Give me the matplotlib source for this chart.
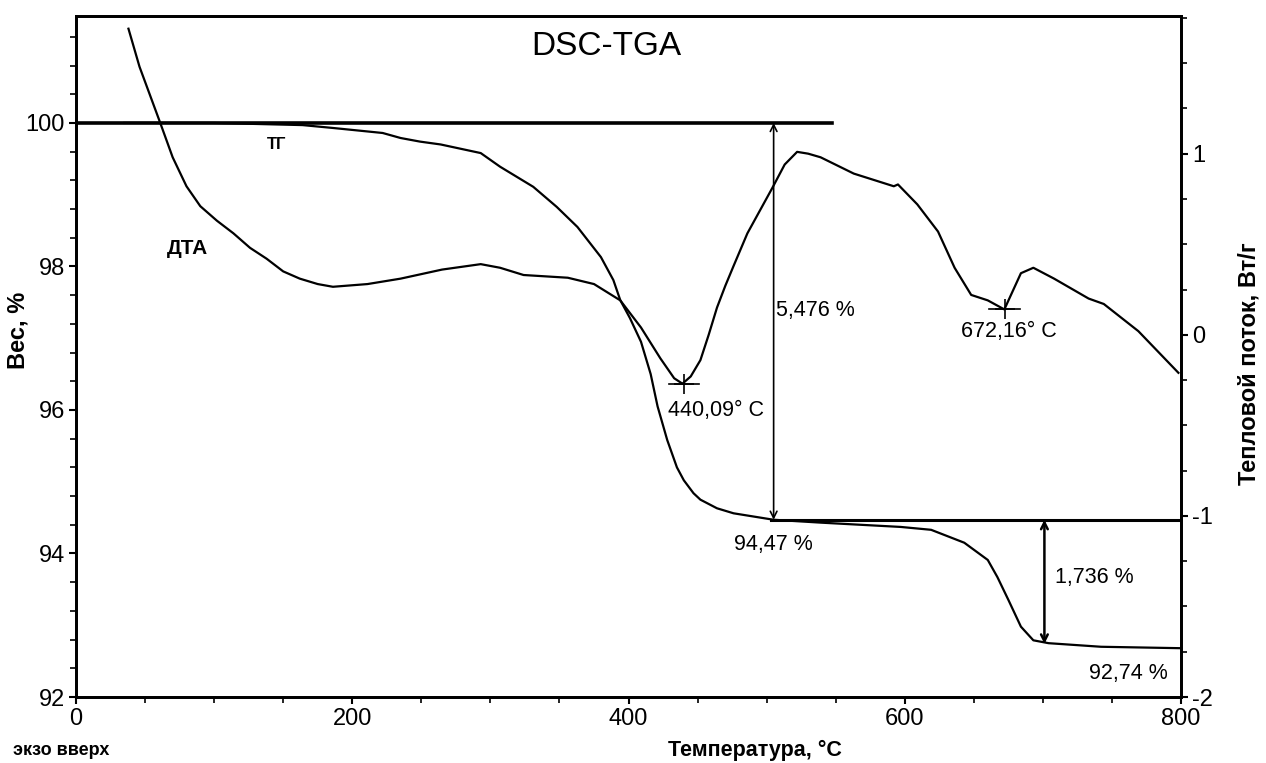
import matplotlib
matplotlib.use("Agg")
import matplotlib.pyplot as plt
from matplotlib.ticker import MultipleLocator

plt.rcParams['font.family'] = ['Liberation Sans', 'DejaVu Sans']

# ---- data ----
tg_temp = [35, 100, 164, 186, 222, 235, 249, 264, 293, 307, 331, 348, 363, 380, 389,
           394, 401, 409, 416, 421, 428, 435, 440, 447, 452, 464, 476, 505, 539, 597,
           619, 643, 660, 667, 675, 684, 693, 704, 742, 800]
tg_weight = [100.0, 100.0, 99.97, 99.93, 99.86, 99.79, 99.74, 99.70, 99.58, 99.39,
             99.11, 98.83, 98.55, 98.13, 97.81, 97.53, 97.28, 96.95, 96.50, 96.05,
             95.58, 95.20, 95.02, 94.84, 94.75, 94.63, 94.56, 94.47, 94.43, 94.37,
             94.33, 94.15, 93.91, 93.67, 93.35, 92.98, 92.79, 92.75, 92.70, 92.68]

dta_temp = [38, 46, 61, 70, 80, 90, 102, 114, 126, 138, 150, 162, 175, 186, 211, 235,
            265, 293, 307, 324, 356, 375, 394, 409, 423, 433, 439, 445, 452, 458, 464,
            470, 476, 486, 504, 513, 522, 530, 539, 563, 592, 595, 609, 624, 636, 648,
            660, 672, 684, 693, 708, 733, 744, 769, 798]
dta_flow = [1.69, 1.48, 1.17, 0.98, 0.82, 0.71, 0.63, 0.56, 0.48, 0.42, 0.35, 0.31,
            0.28, 0.265, 0.28, 0.31, 0.36, 0.39, 0.37, 0.33, 0.315, 0.28, 0.19, 0.04,
            -0.13, -0.24, -0.27, -0.23, -0.14, 0.0, 0.15, 0.27, 0.38, 0.56, 0.81, 0.94,
            1.01, 1.0, 0.98, 0.89, 0.82, 0.83, 0.72, 0.57, 0.37, 0.22, 0.19, 0.14, 0.34,
            0.37, 0.31, 0.20, 0.17, 0.02, -0.21]

peak_temp = [440.09, 672.16]
peak_flow = [-0.27, 0.14]
peak_labels = ["440,09° C", "672,16° C"]

step_start = [100.0, 94.47]
step_end = [94.47, 92.74]
step_temp = [505, 701]
step_labels = ["5,476 %", "1,736 %"]
level_labels = ["94,47 %", "92,74 %"]

# ---- figure ----
fig = plt.figure(figsize=(12.66, 7.63), dpi=100)
ax = fig.add_axes([0.060, 0.0865, 0.873, 0.8925])
ax2 = ax.twinx()

ax.set_xlim(0, 800)
ax.set_ylim(92, 101.49)
ax2.set_ylim(-2, 1.76)

lw_curve = 1.6
ax.plot(tg_temp, tg_weight, color='black', lw=lw_curve)
ax2.plot(dta_temp, dta_flow, color='black', lw=lw_curve)

# baselines
ax.plot([0, 547], [step_start[0], step_start[0]], color='black', lw=2.6)
ax.plot([503, 800], [step_start[1], step_start[1]], color='black', lw=2.2)

# step arrows
for t, y0, y1, w in zip(step_temp, step_start, step_end, [1.2, 1.8]):
    ax.annotate('', xy=(t, y1), xytext=(t, y0),
                arrowprops=dict(arrowstyle='<->', color='black', lw=w,
                                shrinkA=0, shrinkB=0, mutation_scale=12))
fs_ann = 15.5
ax.text(507, 97.39, step_labels[0], fontsize=fs_ann, va='center', ha='left')
ax.text(709, 93.66, step_labels[1], fontsize=fs_ann, va='center', ha='left')
ax.text(505, 94.12, level_labels[0], fontsize=fs_ann, va='center', ha='center')
ax.text(762, 92.33, level_labels[1], fontsize=fs_ann, va='center', ha='center')

# peak markers
for t, q in zip(peak_temp, peak_flow):
    ax2.plot([t], [q], marker='+', color='black', ms=14, mew=1.2)
    ax2.plot([t - 11, t + 11], [q, q], color='black', lw=1.2)
ax2.text(463, -0.42, peak_labels[0], fontsize=fs_ann, va='center', ha='center')
ax2.text(675, 0.02, peak_labels[1], fontsize=fs_ann, va='center', ha='center')

ax.text(145, 99.70, "ТГ", fontsize=12, fontweight='bold', va='center', ha='center')
ax.text(81, 98.25, "ДТА", fontsize=15, fontweight='bold', va='center', ha='center')
ax.text(0.48, 0.955, "DSC-TGA", transform=ax.transAxes, fontsize=24,
        va='center', ha='center')

# ticks
ax.set_xticks([0, 200, 400, 600, 800])
ax.xaxis.set_minor_locator(MultipleLocator(50))
ax.set_yticks([92, 94, 96, 98, 100])
ax.yaxis.set_minor_locator(MultipleLocator(0.4))
ax2.set_yticks([-2, -1, 0, 1])
ax2.set_yticklabels(['-2', '-1', '0', '1'])
ax2.yaxis.set_minor_locator(MultipleLocator(0.25))

for a in (ax, ax2):
    a.tick_params(which='major', direction='out', length=5, width=1.5, labelsize=17, pad=3)
    a.tick_params(which='minor', direction='out', length=4, width=1.2)
    for s in a.spines.values():
        s.set_linewidth(2)
        s.set_color('black')

ax.set_ylabel("Вес, %", fontsize=17, fontweight='bold')
ax.yaxis.set_label_coords(-0.042, 0.539)
ax2.set_ylabel("Тепловой поток, Вт/г", fontsize=17, fontweight='bold')
ax2.yaxis.set_label_coords(1.051, 0.489)

fig.text(0.596, 0.016, "Температура, °C", fontsize=15.5, fontweight='bold',
         ha='center', va='center')
fig.text(0.010, 0.017, "экзо вверх", fontsize=13, fontweight='bold',
         ha='left', va='center')

fig.savefig("out.png", dpi=100)
